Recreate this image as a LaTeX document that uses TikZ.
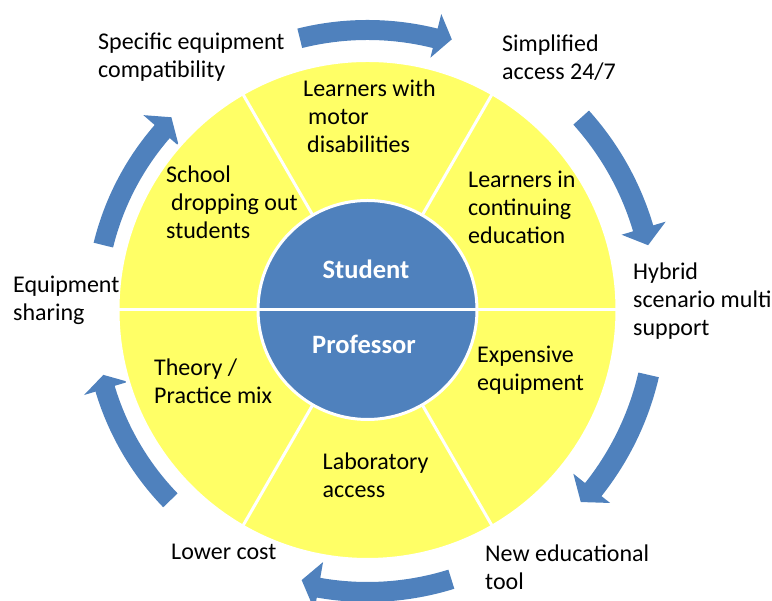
\documentclass[tikz,border=0pt]{standalone}
\usepackage{fontspec}
\setmainfont{Carlito}
\definecolor{ablue}{HTML}{4F81BD}
\definecolor{ayellow}{HTML}{FFFF66}
\tikzset{
  lbl/.style={font=\fontsize{24}{28}\selectfont, align=left, anchor=base west, inner sep=0pt, text=black},
  hub/.style={font=\bfseries\fontsize{26.5}{30}\selectfont, text=white, anchor=base, inner sep=0pt},
  divider/.style={white, line width=3pt},
  arrowfill/.style={fill=ablue}
}
% tail, neck, tip angles; band inner/outer radius; head inner/outer radius; tip radius
\newcommand\cyarrow[8]{%
  \fill[arrowfill] (#1:#5) arc[start angle=#1, end angle=#2, radius=#5]
    -- (#2:#7) -- (#3:#8) -- (#2:#6) -- (#2:#4)
    arc[start angle=#2, end angle=#1, radius=#4] -- cycle;}
\begin{document}
\begin{tikzpicture}[x=1pt,y=1pt]
\useasboundingbox (0,0) rectangle (772,601);
\clip (0,0) rectangle (772,601);
\coordinate (c) at (367.5,291);
\begin{scope}[shift={(c)}]
  % circular arrows
  \cyarrow{104}{76}{72.7}{270pt}{290pt}{260pt}{305pt}{283.5pt}
  \cyarrow{42}{16.5}{13}{277pt}{298pt}{265pt}{311pt}{288pt}
  \cyarrow{-13}{-38.5}{-42}{278pt}{299pt}{263pt}{310pt}{287pt}
  \cyarrow{-72.7}{-100}{-103.7}{272pt}{292pt}{256pt}{305pt}{278pt}
  \cyarrow{-136}{-163.3}{-166.2}{264pt}{284pt}{250pt}{296pt}{272pt}
  \cyarrow{166.2}{139}{135.5}{262pt}{282pt}{250pt}{297pt}{275pt}
  % yellow ring
  \draw[fill=ayellow, draw=white, line width=4pt] (0,0) circle[radius=250pt];
  \foreach \a in {60,120,240,300} \draw[divider] (\a:108pt) -- (\a:250pt);
  % hub
  \draw[fill=ablue, draw=white, line width=3pt] (0,0) circle[radius=109.5pt];
  \draw[divider] (180:250pt) -- (0:250pt);
\end{scope}
\node[hub] (student) at (366,322.7) {Student};
\node[hub] (professor) at (364,247) {Professor};
% anchor base = baseline of the last line
\node[lbl] (specific) at (98,523) {Specific equipment\\compatibility};
\node[lbl] (simplified) at (502,521) {Simplified\\access 24/7};
\node[lbl] (motor) at (303,448) {Learners with\\\hspace*{5pt}motor\\\hspace*{4pt}disabilities};
\node[lbl] (school) at (166,362) {School\\\hspace*{5pt}dropping out\\students};
\node[lbl] (continuing) at (468,357) {Learners in\\continuing\\education};
\node[lbl] (hybrid) at (633,265) {Hybrid\\scenario multi\\support};
\node[lbl] (sharing) at (13,280) {Equipment\\sharing};
\node[lbl] (expensive) at (477,210) {Expensive\\equipment};
\node[lbl] (theory) at (154,197) {Theory /\\Practice mix};
\node[lbl] (lab) at (322.5,103.5) {Laboratory\\access};
\node[lbl] (newtool) at (485,11) {New educational\\tool};
\node[lbl] (lower) at (171,41) {Lower cost};
\end{tikzpicture}
\end{document}
